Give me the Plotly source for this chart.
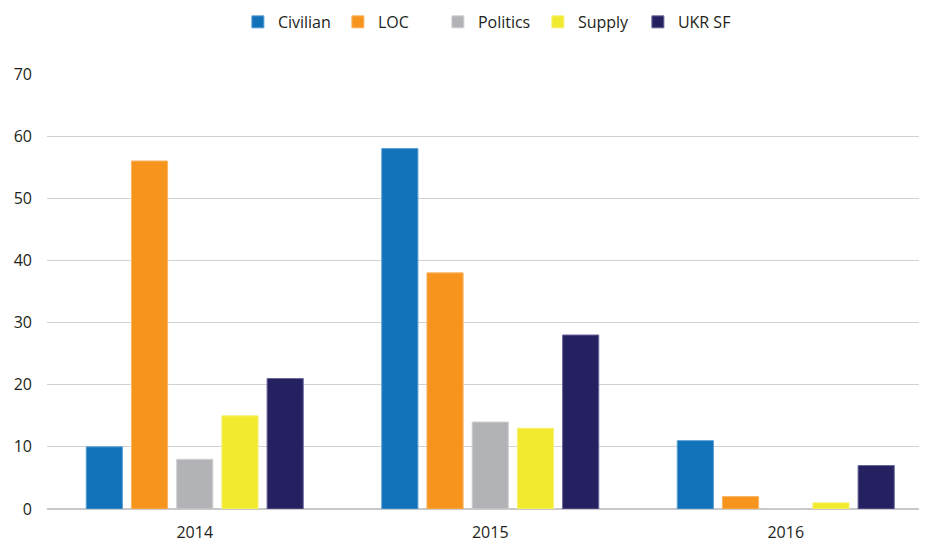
import plotly.graph_objects as go

years = ["2014", "2015", "2016"]
civilian = [10, 58, 11]
loc = [56, 38, 2]
politics = [8, 14, 0]
supply = [15, 13, 1]
ukr_sf = [21, 28, 7]

series = [
    ("Civilian", civilian, "#1172BA", "#5a9fd4"),
    ("LOC", loc, "#F7941D", "#fab563"),
    ("Politics", politics, "#B1B3B6", "#d0d1d3"),
    ("Supply", supply, "#F2EA2E", "#f7f17a"),
    ("UKR SF", ukr_sf, "#252160", "#6a679a"),
]

fig = go.Figure()
for name, vals, col, edge in series:
    fig.add_trace(go.Bar(
        name=name, x=years, y=vals,
        marker=dict(color=col, line=dict(color=edge, width=1)),
    ))

fig.update_layout(
    width=919, height=536,
    margin=dict(l=39, r=0, t=66, b=35, autoexpand=False),
    paper_bgcolor="white", plot_bgcolor="white",
    barmode="group", bargap=0.235, bargroupgap=0.2,
    font=dict(family="Open Sans, sans-serif", size=16, color="#231f20"),
    legend=dict(orientation="h", x=0.501, xanchor="center", y=0.974, yanchor="middle",
                yref="container", font=dict(size=16), itemwidth=30,
                entrywidth=55, traceorder="normal"),
    showlegend=True,
)
fig.update_xaxes(range=[-0.5, 2.478], showgrid=False, showline=False, ticks="",
                 ticklabelstandoff=12, tickfont=dict(size=16), automargin=False)
fig.update_yaxes(range=[0, 70], dtick=10, showgrid=True, gridcolor="#d2d2d2",
                 gridwidth=1.2, zeroline=True, zerolinecolor="#c8c8c8", zerolinewidth=1.5,
                 ticks="", ticklabelstandoff=14, tickfont=dict(size=16), automargin=False)

fig.write_html("out.html")
